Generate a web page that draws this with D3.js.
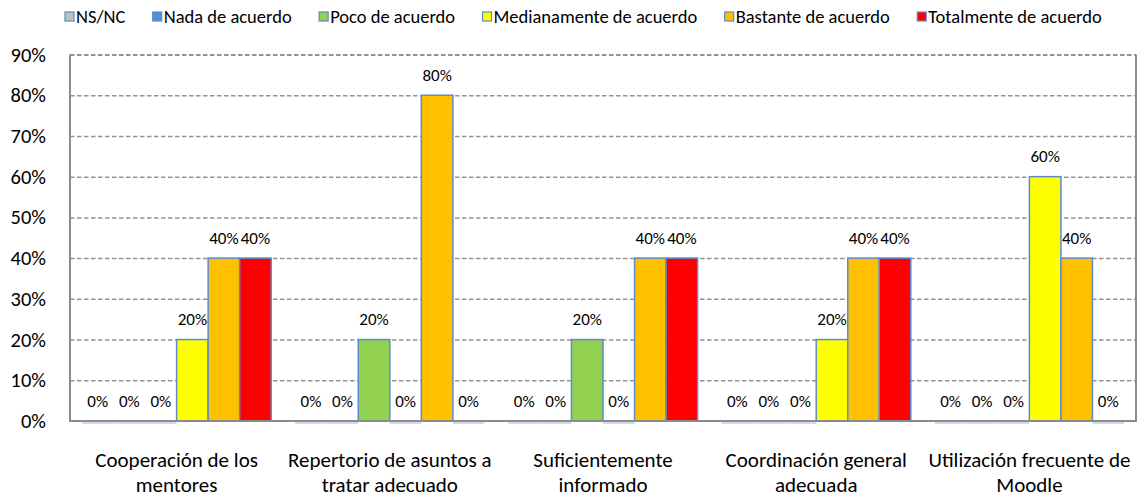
<!DOCTYPE html>
<html>
<head>
<meta charset="utf-8">
<script src="https://cdn.jsdelivr.net/npm/d3@7"></script>
<style>
  body { margin: 0; background: #fff; }
  text { font-family: Carlito, Calibri, Lato, sans-serif; fill: #000; }
</style>
</head>
<body>
<svg id="chart"></svg>
<script>
// chart data
var categories = [
    ["Cooperación de los", "mentores"],
    ["Repertorio de asuntos a", "tratar adecuado"],
    ["Suficientemente", "informado"],
    ["Coordinación general", "adecuada"],
    ["Utilización frecuente de", "Moodle"]
];
var seriesNames = ["NS/NC", "Nada de acuerdo", "Poco de acuerdo", "Medianamente de acuerdo", "Bastante de acuerdo", "Totalmente de acuerdo"];
var seriesColors = ["#BFBFBF", "#558ED5", "#92D050", "#FFFF00", "#FFC000", "#FF0000"];
var nsnc       = [0, 0, 0, 0, 0];
var nada       = [0, 0, 0, 0, 0];
var poco       = [0, 0.2, 0.2, 0, 0];
var mediana    = [0.2, 0, 0, 0.2, 0.6];
var bastante   = [0.4, 0.8, 0.4, 0.4, 0.4];
var totalmente = [0.4, 0, 0.4, 0.4, 0];
var seriesValues = [nsnc, nada, poco, mediana, bastante, totalmente];
var yTicks = [0, 0.1, 0.2, 0.3, 0.4, 0.5, 0.6, 0.7, 0.8, 0.9];

let svgWidth = 1141
let svgHeight = 497
let plot = {left: 70, right: 1136, top: 54.5, bottom: 421}

var svg = d3.select("#chart")
    .attr("width", svgWidth)
    .attr("height", svgHeight)

var x0 = d3.scaleBand()
    .domain(d3.range(categories.length))
    .range([plot.left, plot.right])

var x1 = d3.scaleBand()
    .domain(d3.range(seriesNames.length))
    .range([0, x0.bandwidth()])
    .paddingOuter(0.38)

var y = d3.scaleLinear()
    .domain([0, 0.9])
    .range([plot.bottom, plot.top])

// gridlines
var grid = svg.append("g")
    .attr("transform", "translate(" + plot.left + ",0)")
    .call(d3.axisLeft(y).tickValues(yTicks.slice(1)).tickSize(-(plot.right - plot.left)).tickFormat(""))
grid.select(".domain").remove()
grid.selectAll(".tick line")
    .attr("stroke", "#939393")
    .attr("stroke-width", function(d) { return d == 0.9 ? 2 : 1.5 })
    .attr("stroke-dasharray", "4.5,2.5")

// y axis labels
var yAxis = svg.append("g")
    .attr("transform", "translate(" + plot.left + ",0)")
    .call(d3.axisLeft(y).tickValues(yTicks).tickSize(0).tickPadding(24).tickFormat(d3.format(".0%")))
yAxis.select(".domain").remove()
yAxis.selectAll(".tick text")
    .style("font-size", "20.5px")
    .attr("fill", "#000")

// bars
var groups = svg.selectAll("g.cat")
    .data(categories)
    .enter().append("g")
    .attr("class", "cat")
    .attr("transform", function(d, i) { return "translate(" + x0(i) + ",0)" })

groups.each(function(c, ci) {
    var g = d3.select(this)
    var vals = seriesValues.map(function(s, si) { return {si: si, v: s[ci]} })

    g.selectAll("rect.bar")
        .data(vals.filter(function(d) { return d.v > 0 }))
        .enter().append("rect")
        .attr("class", "bar")
        .attr("x", function(d) { return x1(d.si) })
        .attr("width", x1.bandwidth())
        .attr("y", function(d) { return y(d.v) })
        .attr("height", function(d) { return y(0) - y(d.v) })
        .attr("fill", function(d) { return seriesColors[d.si] })
        .attr("stroke", "#5B8CCB")
        .attr("stroke-width", 1.5)

    // zero bars only show as a thin outline on the baseline
    g.selectAll("line.zero")
        .data(vals.filter(function(d) { return d.v == 0 }))
        .enter().append("line")
        .attr("class", "zero")
        .attr("x1", function(d) { return x1(d.si) })
        .attr("x2", function(d) { return x1(d.si) + x1.bandwidth() })
        .attr("y1", y(0) + 2)
        .attr("y2", y(0) + 2)
        .attr("stroke", "#9DB9E0")
        .attr("stroke-width", 1)

    g.selectAll("text.lbl")
        .data(vals)
        .enter().append("text")
        .attr("class", "lbl")
        .attr("x", function(d) { return x1(d.si) + x1.bandwidth() / 2 })
        .attr("y", function(d) { return y(d.v) - 14.5 })
        .attr("text-anchor", "middle")
        .style("font-size", "17px")
        .text(function(d) { return d3.format(".0%")(d.v) })
})

// plot frame
svg.append("line")
    .attr("x1", plot.left).attr("x2", plot.left)
    .attr("y1", plot.top).attr("y2", plot.bottom)
    .attr("stroke", "#8c8c8c").attr("stroke-width", 2)
svg.append("line")
    .attr("x1", plot.right).attr("x2", plot.right)
    .attr("y1", plot.top).attr("y2", plot.bottom)
    .attr("stroke", "#8c8c8c").attr("stroke-width", 2)
svg.append("line")
    .attr("x1", plot.left - 1).attr("x2", plot.right + 1)
    .attr("y1", plot.bottom).attr("y2", plot.bottom)
    .attr("stroke", "#8c8c8c").attr("stroke-width", 2)

// category labels
var catLabels = svg.selectAll("text.cat")
    .data(categories)
    .enter().append("text")
    .attr("class", "cat")
    .attr("text-anchor", "middle")
    .style("font-size", "21px")

catLabels.selectAll("tspan")
    .data(function(d, i) { return d.map(function(line) { return {line: line, i: i} }) })
    .enter().append("tspan")
    .attr("x", function(d) { return x0(d.i) + x0.bandwidth() / 2 })
    .attr("y", function(d, j) { return 467 + j * 24.5 })
    .text(function(d) { return d.line })

// legend
var legend = svg.append("g").attr("class", "legend")
var items = legend.selectAll("g")
    .data(seriesNames)
    .enter().append("g")

items.append("rect")
    .attr("width", 9).attr("height", 9)
    .attr("y", 12)
    .attr("fill", function(d, i) { return seriesColors[i] })
    .attr("stroke", "#5B8CCB")
    .attr("stroke-width", 1.2)

items.append("text")
    .attr("x", 11)
    .attr("y", 23)
    .style("font-size", "18.5px")
    .text(function(d) { return d })

var widths = items.nodes().map(function(n) { return n.getBBox().width })
var legendStart = 65, legendEnd = 1102
var gap = (legendEnd - legendStart - d3.sum(widths)) / (widths.length - 1)
var pos = legendStart
items.attr("transform", function(d, i) {
    var t = "translate(" + pos + ",0)"
    pos += widths[i] + gap
    return t
})
</script>
</body>
</html>
